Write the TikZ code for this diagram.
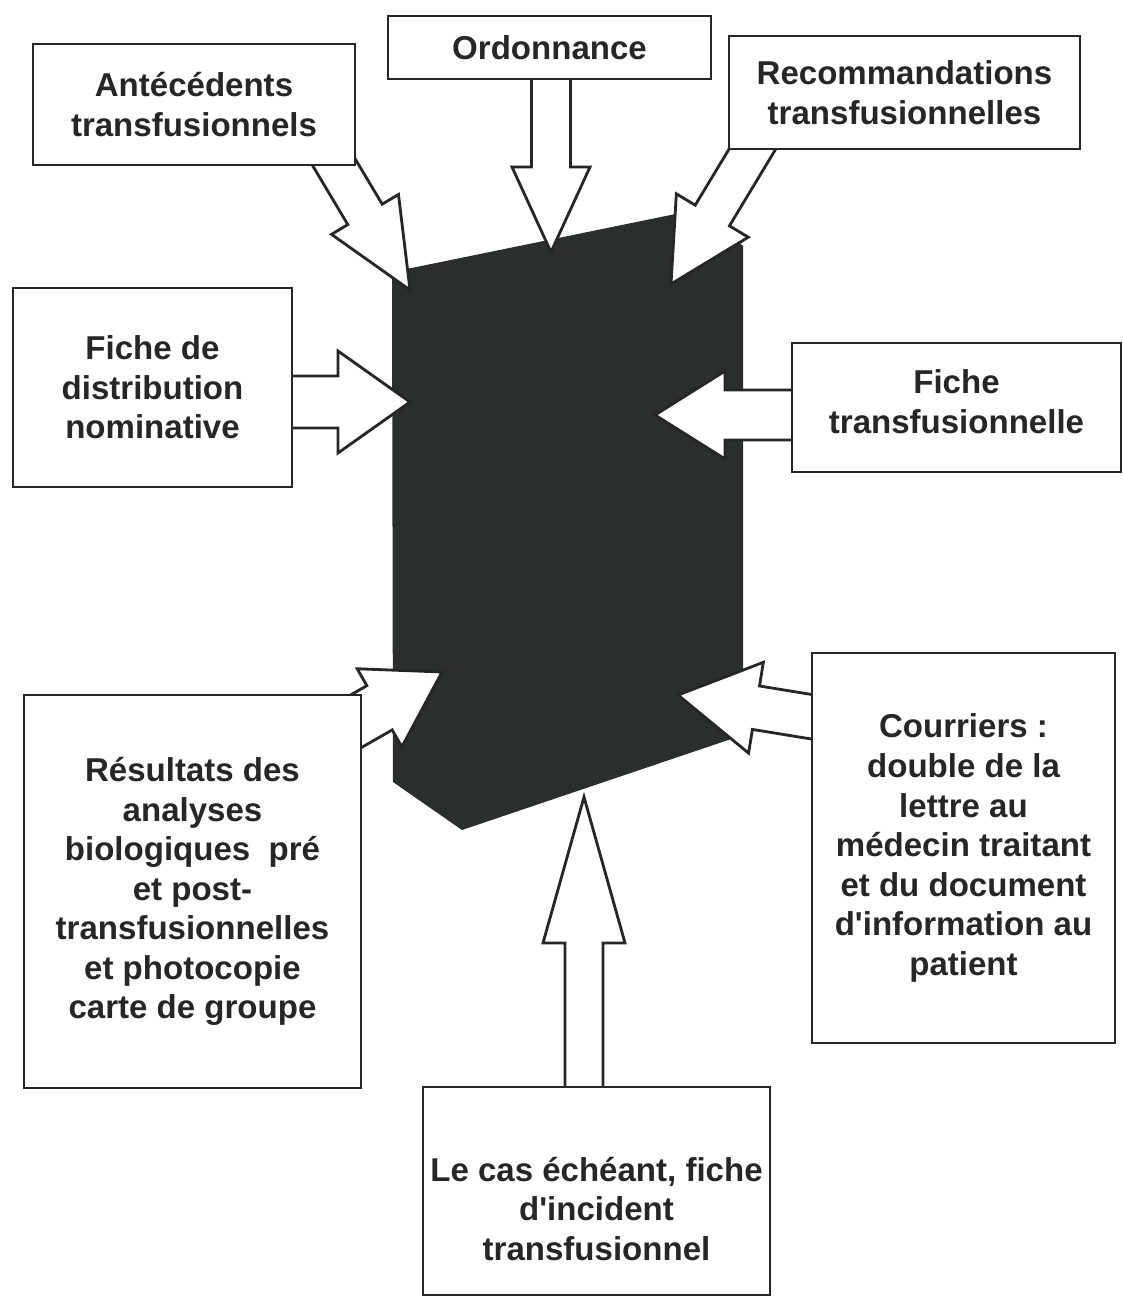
\documentclass[tikz,border=0pt]{standalone}
\usepackage{fontspec}
\setmainfont{Liberation Sans}
\usepackage{xcolor}
\usepackage{tikz}
\usetikzlibrary{calc}
\usetikzlibrary{positioning}
\definecolor{slabgray}{RGB}{42,47,43}
\pgfdeclarelayer{back}
\pgfdeclarelayer{mid}
\pgfsetlayers{back,mid,main}
\newcommand{\fatarrow}[5]{%
  \coordinate (tail) at ($(#1)!-0.6cm!(#2)$);
  \coordinate (neck) at ($(#2)!#5!(#1)$);
  \path[fat] ($(tail)!#3!90:(#2)$) -- ($(neck)!#3!90:(#2)$) -- ($(neck)!#4!90:(#2)$) -- (#2)
    -- ($(neck)!#4!-90:(#2)$) -- ($(neck)!#3!-90:(#2)$) -- ($(tail)!#3!-90:(#2)$) -- cycle;
}

\begin{document}
\begin{tikzpicture}[node distance=1cm,on grid,
      box/.style={draw=black!85, line width=0.8pt, fill=white, inner sep=0pt, align=center,
        text=black!85, font=\bfseries\fontsize{9.4}{11.25}\selectfont},
      fat/.style={draw=black!85, line width=0.8pt, fill=white, line join=miter}]

      \useasboundingbox (0,0) rectangle (11.23,-12.98);

      \node[box, minimum width=3.23cm, minimum height=0.63cm] (ord) at (5.495,-0.475) {Ordonnance};
      \node[box, minimum width=3.22cm, minimum height=1.21cm] (ant) [left=of ord, xshift=-2.555cm, yshift=-0.57cm] {Antécédents\\transfusionnels};
      \node[box, minimum width=3.51cm, minimum height=1.13cm] (rec) [right=of ord, xshift=2.55cm, yshift=-0.45cm] {Recommandations\\transfusionnelles};

      \node[box, minimum width=2.79cm, minimum height=1.99cm] (fdn) [below=of ant, xshift=-0.415cm, yshift=-1.83cm] {Fiche de\\distribution\\nominative};
      \node[box, minimum width=3.29cm, minimum height=1.29cm] (ftr) [below=of rec, xshift=0.52cm, yshift=-2.15cm] {Fiche\\transfusionnelle\rule[-0.12cm]{0pt}{0pt}};

      \node[box, minimum width=3.37cm, minimum height=3.93cm] (res) [below=of fdn, xshift=0.40cm, yshift=-4.04cm] {Résultats des\\analyses\\biologiques\ \ pré\\et post-\\transfusionnelles\\et photocopie\\carte de groupe};
      \node[box, minimum width=3.03cm, minimum height=3.90cm] (cou) [below=of ftr, xshift=0.07cm, yshift=-3.405cm] {Courriers :\\double de la\\lettre au\\médecin traitant\\et du document\\d\textquotesingle information au\\patient};
      \node[box, minimum width=3.47cm, minimum height=2.08cm] (cas) [right=of res, xshift=3.04cm, yshift=-2.995cm] {\rule{0pt}{0.6cm}Le cas échéant, fiche\\d\textquotesingle incident\\transfusionnel};

      \coordinate (antT) at (4.10,-2.90);
      \coordinate (ordT) at (5.51,-2.52);
      \coordinate (recT) at (6.71,-2.84);
      \coordinate (fdnT) at (4.10,-4.02);
      \coordinate (ftrT) at (6.55,-4.15);
      \coordinate (resT) at (4.42,-6.72);
      \coordinate (couT) at (6.78,-6.95);
      \coordinate (casT) at (5.84,-7.97);

      \coordinate (antS) at ($(ant.south east)+(-0.20,0)$);
      \coordinate (ordS) at (ord.south -| ordT);
      \coordinate (recS) at ($(rec.south west)+(0.24,0)$);
      \coordinate (fdnS) at (fdn.east |- fdnT);
      \coordinate (ftrS) at (ftr.west |- ftrT);
      \coordinate (resS) at ($(res.north east)+(0,-0.24)$);
      \coordinate (couS) at ($(cou.north west)+(0,-0.65)$);
      \coordinate (casS) at (cas.north -| casT);

      \begin{pgfonlayer}{back}
        \fill[white] (0,0) rectangle (11.23,-12.98);
        \fill[slabgray] (3.92,-2.72) -- (7.00,-2.09) -- (7.43,-2.46) -- (7.43,-7.35) -- (4.62,-8.30) -- (3.93,-7.82) -- cycle;
      \end{pgfonlayer}

      \begin{pgfonlayer}{mid}
        \fatarrow{antS}{antT}{0.20cm}{0.39cm}{0.88cm}
        \fatarrow{ordS}{ordT}{0.195cm}{0.39cm}{0.85cm}
        \fatarrow{recS}{recT}{0.20cm}{0.42cm}{0.80cm}
        \fatarrow{fdnS}{fdnT}{0.26cm}{0.51cm}{0.72cm}
        \fatarrow{ftrS}{ftrT}{0.25cm}{0.44cm}{0.70cm}
        \fatarrow{resS}{resT}{0.255cm}{0.45cm}{0.72cm}
        \fatarrow{couS}{couT}{0.22cm}{0.46cm}{0.79cm}
        \fatarrow{casS}{casT}{0.19cm}{0.41cm}{1.46cm}
      \end{pgfonlayer}

\end{tikzpicture}
\end{document}
